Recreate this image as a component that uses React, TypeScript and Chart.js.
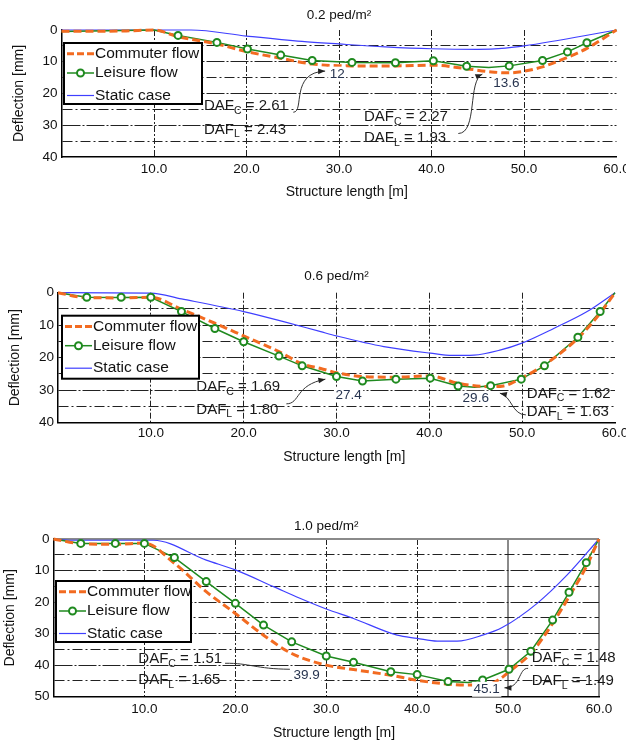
import React, { useEffect, useRef } from 'react';
import { Chart, registerables } from 'chart.js';

Chart.register(...registerables);

const FONT = "'Liberation Sans', Arial, Helvetica, sans-serif";
const ORANGE = '#f26b21';
const GREEN = '#1f8a1f';
const BLUE = '#3f3fff';
const TEXT = '#111111';
const NUM = '#27344f';

// ---------- Shared axis values ----------
const xTickStep = 10;
const yTickStep = 5;
const yMaxValues = [40, 40, 50];
const titles = ['0.2 ped/m²', '0.6 ped/m²', '1.0 ped/m²'];
const seriesLabels = ['Commuter flow', 'Leisure flow', 'Static case'];

// ---------- Panel 1: 0.2 ped/m2 ----------
const commuter02X = [0, 3, 7, 10, 12.6, 16.8, 20, 23.7, 27.1, 31.4, 36.1, 40.2, 43.8, 46.5, 48.4, 50, 52, 54.7, 56.8, 60];
const commuter02Y = [0.4, 0.4, 0.3, 0, 2.1, 4.4, 6.8, 8.9, 10.7, 11.3, 11.3, 11.1, 12.2, 13.2, 13.5, 13.0, 11.6, 8.6, 5.8, 0];
const leisure02X = [0, 10, 12.6, 16.8, 20.1, 23.7, 27.1, 31.4, 36.1, 40.2, 43.8, 46.2, 48.4, 52.0, 54.7, 56.8, 60];
const leisure02Y = [0.5, 0, 1.7, 3.9, 6.0, 7.9, 9.6, 10.2, 10.3, 9.7, 11.4, 11.8, 11.3, 9.6, 6.9, 4.0, 0];
const leisure02MarkX = [12.6, 16.8, 20.1, 23.7, 27.1, 31.4, 36.1, 40.2, 43.8, 48.4, 52.0, 54.7, 56.8];
const leisure02MarkY = [1.7, 3.9, 6.0, 7.9, 9.6, 10.2, 10.3, 9.7, 11.4, 11.3, 9.6, 6.9, 4.0];
const static02X = [0, 10, 14, 20, 26, 30, 35, 40, 45, 48, 50, 60];
const static02Y = [0, 0, 0, 1.9, 3.6, 4.4, 5.3, 5.9, 6.1, 5.7, 5.0, 0];

// ---------- Panel 2: 0.6 ped/m2 ----------
const commuter06X = [0, 3, 7, 10, 13.3, 16.9, 20, 23.8, 26.3, 28.3, 30, 32.8, 36.4, 40.1, 43.1, 46.6, 48, 49.9, 52.4, 56, 58.4, 60];
const commuter06Y = [0, 1.5, 1.6, 1.4, 5.1, 9.4, 13.3, 18.1, 21.9, 23.3, 24.6, 25.8, 26.0, 25.6, 27.9, 28.9, 28.7, 26.3, 22.2, 14.0, 6.3, 0];
const leisure06X = [0, 3.1, 6.8, 10.0, 13.3, 16.9, 20.0, 23.8, 26.3, 30.0, 32.8, 36.4, 40.1, 43.1, 44.9, 46.6, 49.9, 52.4, 56.0, 58.4, 60];
const leisure06Y = [0, 1.4, 1.5, 1.4, 5.8, 11.0, 15.1, 19.5, 22.5, 25.8, 27.2, 26.6, 26.3, 28.7, 29.1, 28.6, 26.6, 22.5, 13.7, 5.8, 0];
const leisure06MarkX = [3.1, 6.8, 10.0, 13.3, 16.9, 20.0, 23.8, 26.3, 30.0, 32.8, 36.4, 40.1, 43.1, 46.6, 49.9, 52.4, 56.0, 58.4];
const leisure06MarkY = [1.4, 1.4, 1.4, 5.8, 11.0, 15.1, 19.5, 22.5, 25.8, 27.2, 26.6, 26.3, 28.7, 28.6, 26.6, 22.5, 13.7, 5.8];
const static06X = [0, 10, 13.3, 20, 24.3, 28.3, 30, 35.1, 40.1, 42.5, 44.8, 47.7, 49.9, 53.4, 57, 60];
const static06Y = [0, 0.1, 1.9, 5.8, 8.9, 12.0, 13.3, 16.6, 18.6, 19.3, 19.2, 17.6, 15.6, 11.0, 5.8, 0];

// ---------- Panel 3: 1.0 ped/m2 ----------
const commuter10X = [0, 3, 7, 10, 13.3, 16.8, 20, 23.1, 26.2, 30, 33, 37.1, 40, 43.4, 45.5, 47.7, 49.2, 50.1, 52.5, 54.9, 56.7, 58.6, 60];
const commuter10Y = [0, 1.5, 1.7, 1.3, 7.7, 16.7, 23.6, 30.5, 36.3, 40.0, 41.4, 43.2, 44.8, 46.0, 46.3, 46.2, 44.2, 42.1, 36.3, 26.8, 18.3, 8.8, 0];
const leisure10X = [0, 3.0, 6.8, 10.0, 13.3, 16.8, 20.0, 23.1, 26.2, 30.0, 33.0, 37.1, 40.0, 43.4, 45.6, 47.2, 50.1, 52.5, 54.9, 56.7, 58.6, 60];
const leisure10Y = [0, 1.4, 1.4, 1.4, 5.9, 13.5, 20.4, 27.3, 32.6, 37.1, 39.1, 42.1, 43.0, 45.2, 45.5, 44.7, 41.3, 35.6, 25.7, 16.9, 7.5, 0];
const leisure10MarkX = [3.0, 6.8, 10.0, 13.3, 16.8, 20.0, 23.1, 26.2, 30.0, 33.0, 37.1, 40.0, 43.4, 47.2, 50.1, 52.5, 54.9, 56.7, 58.6];
const leisure10MarkY = [1.4, 1.4, 1.4, 5.9, 13.5, 20.4, 27.3, 32.6, 37.1, 39.1, 42.1, 43.0, 45.2, 44.7, 41.3, 35.6, 25.7, 16.9, 7.5];
const static10X = [0, 2, 11, 16.8, 20, 24.2, 27.1, 30, 33, 37.8, 40, 42.2, 44.4, 47.2, 49.4, 53.2, 56.5, 60];
const static10Y = [0, 0.4, 0.4, 6.7, 9.8, 15.1, 18.8, 22.2, 25.2, 30.5, 31.5, 32.4, 32.4, 30.5, 28.0, 20.4, 11.4, 0];

// ---------- Annotation texts ----------
const dafC = [['2.61', '2.27'], ['1.69', '1.62'], ['1.51', '1.48']];
const dafL = [['2.43', '1.93'], ['1.80', '1.63'], ['1.65', '1.49']];
const peakLabels = [['12', '13.6'], ['27.4', '29.6'], ['39.9', '45.1']];

// ---------- Layout / style (not data) ----------
type Pt = [number, number];
interface PanelStyle {
  top: number; h: number; left: number; right: number;
  titlePad: { top: number; bottom: number };
  xHeight: number; xTickPad: number; xTitlePadB: number; yTitlePad: number;
  legend: { dx: number; dy: number; w: number; h: number };
  frame: boolean;
  dafPos: { x: number; yC: number; yL: number }[];
  peakPos: Pt[];
  arrows: { p: Pt[]; head: boolean }[];
}

const styles: PanelStyle[] = [
  {
    top: 0, h: 220, left: 61.5, right: 616.5,
    titlePad: { top: 6.9, bottom: 6.9 },
    xHeight: 63, xTickPad: 3.7, xTitlePadB: 19.6, yTitlePad: 10.6,
    legend: { dx: 2.5, dy: 13, w: 138, h: 61 },
    frame: false,
    dafPos: [{ x: 15.4, yC: 24.0, yL: 31.3 }, { x: 32.7, yC: 27.4, yL: 33.9 }],
    peakPos: [[29.8, 13.9], [48.1, 16.8]],
    arrows: [
      { p: [[25.06, 25.9], [26.3, 25.9], [24.7, 13.3], [28.5, 12.95]], head: true },
      { p: [[42.9, 32.6], [45.0, 32.5], [43.9, 15.8], [45.5, 13.9]], head: true },
    ],
  },
  {
    top: 220, h: 255, left: 58, right: 615,
    titlePad: { top: 47.9, bottom: 8.6 },
    xHeight: 52.3, xTickPad: 2.2, xTitlePadB: 9.9, yTitlePad: 7,
    legend: { dx: 4, dy: 23, w: 137, h: 63 },
    frame: false,
    dafPos: [{ x: 14.9, yC: 28.9, yL: 35.9 }, { x: 50.5, yC: 31.0, yL: 36.8 }],
    peakPos: [[31.3, 31.5], [45.0, 32.5]],
    arrows: [
      { p: [[24.6, 34.2], [26.1, 34.2], [25.5, 28.4], [28.8, 26.6]], head: true },
      { p: [[50.4, 37.6], [48.9, 37.6], [48.9, 31.8], [47.6, 30.9]], head: true },
    ],
  },
  {
    top: 475, h: 269, left: 53.5, right: 599,
    titlePad: { top: 42.9, bottom: 4.9 },
    xHeight: 47.3, xTickPad: 4.7, xTitlePadB: 2.3, yTitlePad: 2,
    legend: { dx: 2.5, dy: 42, w: 135, h: 61 },
    frame: true,
    dafPos: [{ x: 9.33, yC: 38.1, yL: 44.7 }, { x: 52.6, yC: 37.8, yL: 45.0 }],
    peakPos: [[27.85, 43.1], [47.65, 47.65]],
    arrows: [
      { p: [[18.87, 39.4], [21.6, 39.3], [22.2, 41.2], [26.0, 41.3]], head: false },
      { p: [[52.2, 41.0], [51.1, 40.9], [51.5, 47.2], [49.6, 47.2]], head: true },
    ],
  },
];

const seriesData = [
  { c: [commuter02X, commuter02Y], l: [leisure02X, leisure02Y], m: [leisure02MarkX, leisure02MarkY], s: [static02X, static02Y] },
  { c: [commuter06X, commuter06Y], l: [leisure06X, leisure06Y], m: [leisure06MarkX, leisure06MarkY], s: [static06X, static06Y] },
  { c: [commuter10X, commuter10Y], l: [leisure10X, leisure10Y], m: [leisure10MarkX, leisure10MarkY], s: [static10X, static10Y] },
];

const zip = (xs: number[], ys: number[]) => xs.map((x, i) => ({ x, y: ys[i] }));
const LEGEND_ROWS = [10.7, 30, 52.5];

function makeOverlay(idx: number) {
  const st = styles[idx];
  return {
    id: 'overlay' + idx,
    afterDatasetsDraw(chart: any) {
      const { ctx, chartArea } = chart;
      const xs = chart.scales.x;
      const ys = chart.scales.y;
      const P = (p: Pt) => ({ x: xs.getPixelForValue(p[0]), y: ys.getPixelForValue(p[1]) });
      ctx.save();

      // arrows / connectors
      ctx.strokeStyle = '#333';
      ctx.fillStyle = '#222';
      ctx.lineWidth = 1;
      ctx.setLineDash([]);
      st.arrows.forEach((a) => {
        const [p0, p1, p2, p3] = a.p.map(P);
        ctx.beginPath();
        ctx.moveTo(p0.x, p0.y);
        ctx.bezierCurveTo(p1.x, p1.y, p2.x, p2.y, p3.x, p3.y);
        ctx.stroke();
        if (a.head) {
          const ang = Math.atan2(p3.y - p2.y, p3.x - p2.x);
          const L = 7, W = 2.8;
          const c = Math.cos(ang), s = Math.sin(ang);
          ctx.beginPath();
          ctx.moveTo(p3.x, p3.y);
          ctx.lineTo(p3.x - L * c + W * s, p3.y - L * s - W * c);
          ctx.lineTo(p3.x - L * c - W * s, p3.y - L * s + W * c);
          ctx.closePath();
          ctx.fill();
        }
      });

      // peak values
      ctx.font = `13.5px ${FONT}`;
      ctx.textAlign = 'center';
      ctx.textBaseline = 'middle';
      st.peakPos.forEach((pp, i) => {
        const p = P(pp);
        const t = peakLabels[idx][i];
        const w = ctx.measureText(t).width;
        ctx.fillStyle = '#fff';
        ctx.fillRect(p.x - w / 2 - 1.5, p.y - 7.5, w + 3, 15);
        ctx.fillStyle = NUM;
        ctx.fillText(t, p.x, p.y);
      });

      // DAF labels
      ctx.textAlign = 'left';
      const drawDaf = (x: number, y: number, sub: string, val: string) => {
        ctx.fillStyle = '#1a1a1a';
        ctx.font = `15px ${FONT}`;
        ctx.fillText('DAF', x, y);
        const w1 = ctx.measureText('DAF').width;
        ctx.font = `10.5px ${FONT}`;
        ctx.fillText(sub, x + w1, y + 5);
        const w2 = ctx.measureText(sub).width;
        ctx.font = `15px ${FONT}`;
        ctx.fillText(' = ' + val, x + w1 + w2, y);
      };
      st.dafPos.forEach((d, i) => {
        const pc = P([d.x, d.yC]);
        const pl = P([d.x, d.yL]);
        drawDaf(pc.x, pc.y, 'C', dafC[idx][i]);
        drawDaf(pl.x, pl.y, 'L', dafL[idx][i]);
      });

      // legend
      const lg = st.legend;
      const bx = chartArea.left + lg.dx;
      const by = chartArea.top + lg.dy;
      ctx.fillStyle = '#fff';
      ctx.fillRect(bx, by, lg.w, lg.h);
      ctx.lineWidth = 2;
      ctx.strokeStyle = '#000';
      ctx.strokeRect(bx, by, lg.w, lg.h);
      const legendSets = seriesLabels.map((lab) => chart.data.datasets.find((d: any) => d.label === lab));
      legendSets.forEach((ds: any, i: number) => {
        const yy = by + LEGEND_ROWS[i];
        ctx.beginPath();
        ctx.setLineDash(ds.borderDash ? [7, 3] : []);
        ctx.lineWidth = ds.borderWidth;
        ctx.strokeStyle = ds.borderColor;
        ctx.moveTo(bx + 3, yy);
        ctx.lineTo(bx + 30, yy);
        ctx.stroke();
        ctx.setLineDash([]);
        if (ds.legendMarker) {
          ctx.beginPath();
          ctx.arc(bx + 16.5, yy, 3.5, 0, Math.PI * 2);
          ctx.fillStyle = '#fff';
          ctx.fill();
          ctx.lineWidth = 2;
          ctx.strokeStyle = GREEN;
          ctx.stroke();
        }
        ctx.fillStyle = TEXT;
        ctx.font = `15.5px ${FONT}`;
        ctx.textBaseline = 'middle';
        ctx.fillText(ds.label, bx + 31, yy);
      });
      ctx.restore();
    },
  };
}

function Panel({ idx }: { idx: number }) {
  const ref = useRef<HTMLCanvasElement | null>(null);
  useEffect(() => {
    if (!ref.current) return;
    const st = styles[idx];
    const d = seriesData[idx];
    const yMax = yMaxValues[idx];

    const gridColor = (axis: 'x' | 'y') => (c: any) => {
      const v = c.tick ? c.tick.value : -1;
      if (axis === 'x') {
        if (v === 0) return 'rgba(0,0,0,0)';
        if (v === 60) return st.frame ? '#8a8a8a' : 'rgba(0,0,0,0)';
        if (v === 50 && st.frame) return '#8a8a8a';
        return '#222';
      }
      if (v === yMax) return 'rgba(0,0,0,0)';
      if (v === 0) return st.frame ? '#8a8a8a' : 'rgba(0,0,0,0)';
      return '#222';
    };
    const gridWidth = (axis: 'x' | 'y') => (c: any) => {
      const v = c.tick ? c.tick.value : -1;
      if (st.frame && ((axis === 'x' && (v === 50 || v === 60)) || (axis === 'y' && v === 0))) return 2;
      return 1;
    };
    const gridDash = (axis: 'x' | 'y') => (c: any) => {
      if (!c.tick) return [];
      const v = c.tick.value;
      if (axis === 'x') {
        if (st.frame && (v === 50 || v === 60)) return [];
        return [6, 2, 2, 2];
      }
      if (v === 0 && st.frame) return [];
      return v % 10 === 0 ? [18, 2, 2, 2] : [10, 3, 2, 3];
    };

    const chart = new Chart(ref.current, {
      type: 'line',
      data: {
        datasets: [
          {
            label: 'Leisure markers', data: zip(d.m[0], d.m[1]), showLine: false,
            pointRadius: 3.5, pointBorderWidth: 2, pointBorderColor: GREEN, pointBackgroundColor: '#fff',
            order: 0, clip: false,
          } as any,
          {
            label: 'Commuter flow', data: zip(d.c[0], d.c[1]), borderColor: ORANGE, borderWidth: 3,
            borderDash: [8, 4], pointRadius: 0, order: 1, cubicInterpolationMode: 'monotone', clip: false,
          },
          {
            label: 'Leisure flow', data: zip(d.l[0], d.l[1]), borderColor: GREEN, borderWidth: 1.5,
            pointRadius: 0, order: 2, clip: false, legendMarker: true,
          },
          {
            label: 'Static case', data: zip(d.s[0], d.s[1]), borderColor: BLUE, borderWidth: 1.2,
            pointRadius: 0, order: 3, clip: false, cubicInterpolationMode: 'monotone',
          },
        ] as any,
      },
      options: {
        animation: false,
        responsive: false,
        devicePixelRatio: 1,
        events: [],
        layout: { padding: { left: 0, right: 626 - st.right, top: 0, bottom: 0 }, autoPadding: false },
        plugins: {
          legend: { display: false },
          tooltip: { enabled: false },
          title: {
            display: true, text: titles[idx], fullSize: false, color: TEXT,
            font: { family: FONT, size: 13.5, weight: 'normal' },
            padding: st.titlePad,
          },
        },
        scales: {
          x: {
            type: 'linear', min: 0, max: 60,
            ticks: {
              stepSize: xTickStep, padding: st.xTickPad, color: TEXT, autoSkip: false, maxRotation: 0,
              font: { family: FONT, size: 13.5 },
              callback: (v: any) => (Number(v) === 0 ? '' : Number(v).toFixed(1)),
            },
            grid: { drawTicks: false, color: gridColor('x'), lineWidth: gridWidth('x') },
            border: { color: '#000', width: 1.5, dash: gridDash('x') },
            title: {
              display: true, text: '\u00a0\u00a0\u00a0\u00a0Structure length [m]', color: TEXT,
              font: { family: FONT, size: 14 }, padding: { top: 0, bottom: st.xTitlePadB },
            },
            afterFit: (s: any) => { s.height = st.xHeight; s.paddingLeft = 0; s.paddingRight = 0; },
          },
          y: {
            type: 'linear', reverse: true, min: 0, max: yMax,
            ticks: {
              stepSize: yTickStep, padding: 4, color: TEXT, autoSkip: false,
              font: { family: FONT, size: 13.5 },
              callback: (v: any) => (Number(v) % 10 === 0 ? String(v) : ''),
            },
            grid: { drawTicks: false, color: gridColor('y'), lineWidth: gridWidth('y') },
            border: { color: '#000', width: 1.5, dash: gridDash('y') },
            title: {
              display: true, text: 'Deflection [mm]', color: TEXT,
              font: { family: FONT, size: 14 }, padding: { top: st.yTitlePad, bottom: 0 },
            },
            afterFit: (s: any) => { s.width = st.left; s.paddingTop = 0; s.paddingBottom = 0; },
          },
        },
      } as any,
      plugins: [makeOverlay(idx)],
    });
    return () => chart.destroy();
  }, [idx]);
  const st = styles[idx];
  return (
    <canvas
      ref={ref}
      width={626}
      height={st.h}
      style={{ position: 'absolute', left: 0, top: st.top, width: 626, height: st.h, display: 'block' }}
    />
  );
}

export default function App() {
  return (
    <div style={{ position: 'absolute', left: 0, top: 0, width: 626, height: 744, background: '#fff', overflow: 'hidden' }}>
      <Panel idx={0} />
      <Panel idx={1} />
      <Panel idx={2} />
    </div>
  );
}
